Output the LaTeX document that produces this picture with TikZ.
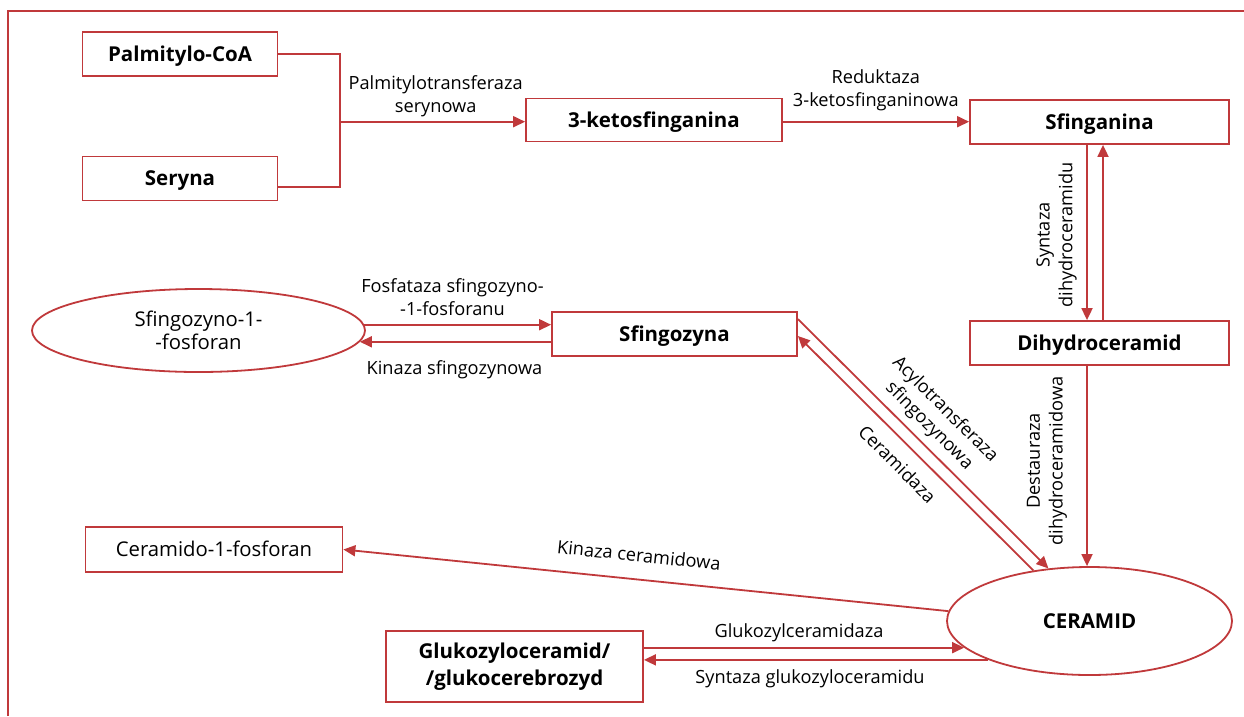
\documentclass[tikz,border=0pt]{standalone}
\usepackage{fontspec}
\setmainfont{Open Sans}
\usetikzlibrary{shapes.geometric,arrows.meta,calc}
\definecolor{cred}{HTML}{C0393B}
\begin{document}
\begin{tikzpicture}[x=1pt,y=-1pt,
  bbox/.style={draw=cred,line width=1.8pt,inner sep=0pt,align=center,text=black,
    font=\fontsize{20.5}{27}\selectfont\bfseries},
  nbox/.style={draw=cred,line width=1.8pt,inner sep=0pt,align=center,text=black,
    font=\fontsize{20.3}{23}\selectfont},
  oneline/.style={text height=16pt,text depth=1.4pt},
  ell/.style={ellipse,draw=cred,line width=1.8pt,inner sep=0pt,align=center,text=black},
  lbl/.style={inner sep=0pt,align=center,text=black,font=\fontsize{18.2}{22.7}\selectfont},
  conn/.style={draw=cred,line width=1.8pt},
  arr/.style={conn,-{Triangle[length=12pt,width=11pt]}}
]
\useasboundingbox (0,0) rectangle (1244,716);
\draw[conn] (8,716) -- (8,11) -- (1244,11);

% nodes
\node[bbox,oneline,minimum width=195pt,minimum height=44pt] (pal) at (180,54) {Palmitylo-CoA};
\node[bbox,oneline,minimum width=195pt,minimum height=44pt] (ser) at (180,178.5) {Seryna};
\node[bbox,oneline,minimum width=256pt,minimum height=43pt] (keto) at (654,120) {3-ketosfinganina};
\node[bbox,oneline,minimum width=259pt,minimum height=44pt] (sfa) at (1099.5,122) {Sfinganina};
\node[bbox,oneline,minimum width=259pt,minimum height=44pt] (dhc) at (1099.5,343) {Dihydroceramid};
\node[bbox,oneline,minimum width=245pt,minimum height=44pt] (sfz) at (674.5,334) {Sfingozyna};
\node[ell,minimum width=333pt,minimum height=83pt,font=\fontsize{20.3}{23}\selectfont] (s1p) at (198.5,330.5) {Sfingozyno-1-\\-fosforan};
\node[ell,oneline,minimum width=285pt,minimum height=108pt,font=\fontsize{20.5}{26}\selectfont\bfseries] (cer) at (1089.5,621) {CERAMID};
\node[nbox,oneline,minimum width=257pt,minimum height=45pt] (c1p) at (214,549.5) {Ceramido-1-fosforan};
\node[bbox,minimum width=257pt,minimum height=71pt] (glu) at (514.5,666.5) {Glukozyloceramid/\\/glukocerebrozyd};

% connectors
\coordinate (jx) at (340,121.7);
\draw[conn] (pal.east) -| (jx) |- ([yshift=-8.5pt]ser.east);
\draw[arr] (jx) -- (jx -| keto.west);
\draw[arr] (keto.east |- jx) -- (sfa.west |- jx);
\draw[arr] ([xshift=-12.5pt]sfa.south) -- ([xshift=-12.5pt]dhc.north);
\draw[arr] ([xshift=3.5pt]dhc.north) -- ([xshift=3.5pt]sfa.south);
\draw[arr] ([xshift=-12.5pt]dhc.south) -- ([xshift=-12.5pt]dhc.south |- cer.north);
\draw[arr] (s1p.2.16) -- (sfz.west |- s1p.2.16);
\draw[arr] (sfz.west |- s1p.356.27) -- (s1p.356.27);
\draw[arr] ([yshift=-8pt]sfz.north east) -- (cer.128.7);
\draw[arr] (cer.138.4) -- ([yshift=-2pt]sfz.east);
\draw[arr] (cer.176.2) -- (c1p.east);
\draw[arr] (glu.east |- cer.192.34) -- (cer.192.34);
\draw[arr] (cer.201.58) -- (glu.east |- cer.201.58);

% labels
\node[lbl] (lpt) at (435.7,96) {Palmitylotransferaza\\serynowa};
\node[lbl] (lred) at (875.8,90.5) {Reduktaza\\3-ketosfinganinowa};
\node[lbl,rotate=90] (lsd) at (1056.5,235) {Syntaza\\dihydroceramidu};
\node[lbl,rotate=90] (ldd) at (1047,461) {Destauraza\\dihydroceramidowa};
\node[lbl] (lfs) at (452.5,297) {Fosfataza sfingozyno-\\-1-fosforanu};
\node[lbl] (lks) at (454.5,370) {Kinaza sfingozynowa};
\node[lbl,rotate=-45] (lacyl) at (937,418) {Acylotransferaza\\sfingozynowa};
\node[lbl,rotate=-45] (lcer) at (897.5,464) {Ceramidaza};
\node[lbl,rotate=-6] (lkc) at (639,555) {Kinaza ceramidowa};
\node[lbl] (lgc) at (799,633) {Glukozylceramidaza};
\node[lbl] (lsg) at (810,679) {Syntaza glukozyloceramidu};
\end{tikzpicture}
\end{document}
